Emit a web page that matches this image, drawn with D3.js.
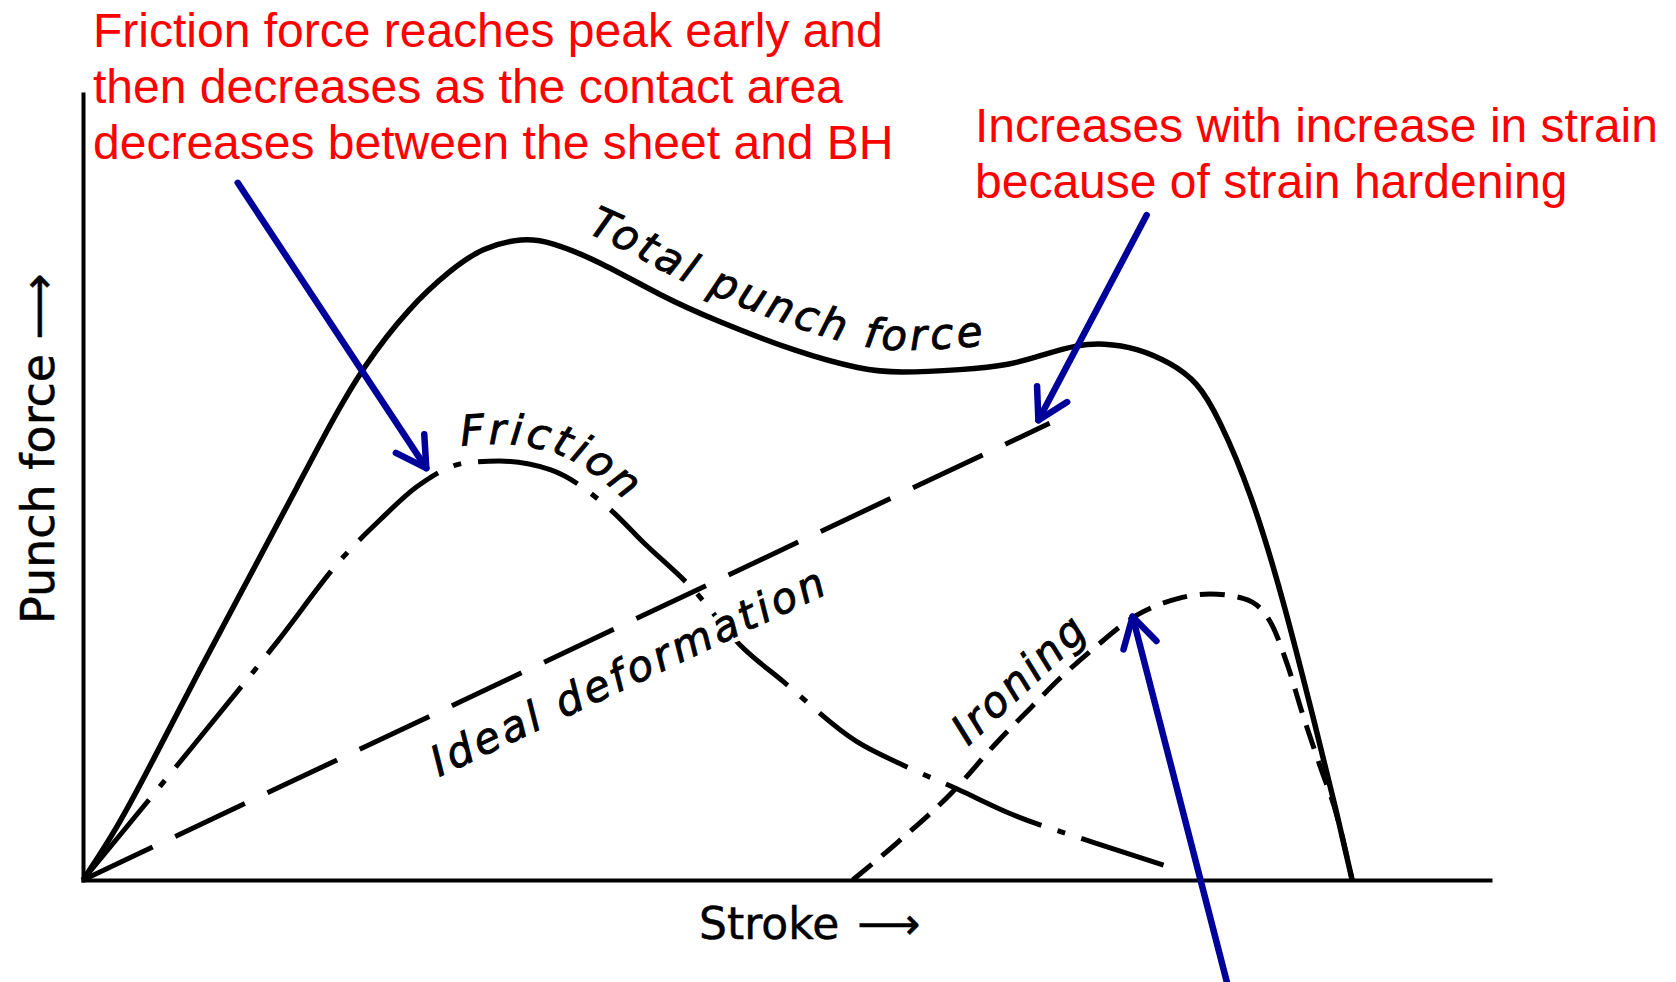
<!DOCTYPE html>
<html>
<head>
<meta charset="utf-8">
<script src="https://cdn.jsdelivr.net/npm/d3@7"></script>
<style>
  html, body { margin: 0; padding: 0; background: #fff; }
  svg { display: block; }
</style>
</head>
<body>
<script>
// Punch force against stroke in deep drawing, split into its components.
// Stroke and force are in relative units (0-100 of the drawn axes).

const totalStroke = [0, 2.4, 4.8, 8.3, 11.9, 15.4, 17.6, 19.9, 23.2, 26.1, 28.4, 31.3, 33.2, 36.5, 41.2, 44.8, 50.8, 55.4, 57.9, 62.5, 65.9, 68.2, 70.7, 72.5, 74.9, 77.3, 79.2, 80.7, 83.0, 85.3, 87.6, 89.1, 90.2];
const totalForce  = [0, 6.5, 14.6, 26.8, 38.8, 50.6, 58.1, 65.3, 72.9, 77.6, 80.5, 81.7, 81.2, 78.9, 74.2, 71.3, 67.1, 64.9, 64.5, 64.9, 65.5, 66.8, 68.1, 68.3, 67.7, 65.8, 63.4, 58.9, 49.4, 35.8, 19.5, 8.7, 0];

const frictionStroke = [0, 6.7, 13.8, 18.5, 21.1, 23.7, 27.3, 29.6, 33.2, 37.5, 39.8, 43.4, 46.7, 49.8, 55.0, 58.3, 62.1, 66.1, 71.8, 76.8];
const frictionForce  = [0, 14.6, 30.3, 41.1, 45.8, 50.0, 53.1, 53.3, 52.2, 47.1, 43.0, 36.9, 29.9, 25.2, 17.6, 14.6, 11.6, 8.3, 4.8, 1.9];

const idealStroke = [0, 68.7];
const idealForce  = [0, 58.1];

const ironingStroke = [54.7, 57.9, 61.8, 65.0, 67.3, 69.4, 71.8, 74.9, 77.8, 80.1, 82.5, 84.4, 85.6, 86.7, 87.9, 89.1, 90.2];
const ironingForce  = [0, 4.8, 11.2, 17.6, 21.8, 25.6, 29.4, 33.7, 35.8, 36.4, 35.8, 32.8, 27.4, 21.0, 14.6, 8.3, 0];

const curveLabels = ["Total punch force", "Friction", "Ideal deformation", "Ironing"];
const axisTitles  = ["Stroke", "Punch force"];
const axisArrow   = "\u27F6";

const frictionNote  = ["Friction force reaches peak early and", "then decreases as the contact area", "decreases between the sheet and BH"];
const hardeningNote = ["Increases with increase in strain", "because of strain hardening"];

// Annotation arrows: [tailStroke, tailForce, tipStroke, tipForce]
const noteArrows = [
  [11.0, 88.7, 24.4, 52.4],
  [75.6, 84.6, 67.9, 58.5],
  [81.3, -13.0, 74.6, 33.5]
];

const W = 1676, H = 982;
const svg = d3.select("body").append("svg")
  .attr("width", W).attr("height", H)
  .attr("viewBox", `0 0 ${W} ${H}`);

const x = d3.scaleLinear().domain([0, 100]).range([83, 1490]);
const y = d3.scaleLinear().domain([0, 100]).range([880, 94]);

const zip = (a, b) => a.map((v, i) => [v, b[i]]);
const line = d3.line()
  .x(d => x(d[0])).y(d => y(d[1]))
  .curve(d3.curveMonotoneX);
const smoothLine = d3.line()
  .x(d => x(d[0])).y(d => y(d[1]))
  .curve(d3.curveBasis);

// Axes: bare lines, no ticks
const styleDomain = g => g.select(".domain")
  .attr("stroke", "#000").attr("stroke-width", 4).attr("stroke-linecap", "square");
svg.append("g")
  .attr("transform", `translate(0,${y(0)})`)
  .call(d3.axisBottom(x).tickValues([]).tickSizeOuter(0))
  .call(styleDomain);
svg.append("g")
  .attr("transform", `translate(${x(0)},0)`)
  .call(d3.axisLeft(y).tickValues([]).tickSizeOuter(0))
  .call(styleDomain);

const curves = svg.append("g").attr("fill", "none").attr("stroke", "#000");

const frictionPath = curves.append("path")
  .attr("d", line(zip(frictionStroke, frictionForce)))
  .attr("stroke-width", 5)
  .attr("stroke-dasharray", "104,17,8,17");

curves.append("path")
  .attr("d", line(zip(ironingStroke, ironingForce)))
  .attr("stroke-width", 5)
  .attr("stroke-dasharray", "25,13");

const totalPath = curves.append("path")
  .attr("d", smoothLine(zip(totalStroke, totalForce)))
  .attr("stroke-width", 5.5)
  .attr("stroke-linejoin", "round");

// Ideal deformation label: white backing first, so the friction curve
// breaks where it runs under the lettering
const idealAngle = Math.atan2(y(idealForce[1]) - y(idealForce[0]), x(idealStroke[1]) - x(idealStroke[0])) * 180 / Math.PI;
const labelFont = g => g
  .attr("font-family", "'DejaVu Sans', sans-serif")
  .attr("font-style", "oblique")
  .attr("font-size", 42);
const idealLabelAt = `translate(${x(25.3)},${y(13.1)}) rotate(${idealAngle})`;
svg.append("text").call(labelFont).attr("letter-spacing", 3.6)
  .attr("transform", idealLabelAt)
  .attr("fill", "#fff").attr("stroke", "#fff").attr("stroke-width", 10)
  .attr("stroke-linejoin", "round")
  .text(curveLabels[2]);

curves.append("path")
  .attr("d", line(zip(idealStroke, idealForce)))
  .attr("stroke-width", 5)
  .attr("stroke-dasharray", "77,25");

// Baseline running parallel to a curve, shifted to its upper side
function parallelBaseline(node, dist, fromStroke) {
  const L = node.getTotalLength();
  const pts = [];
  for (let s = 0; s <= L; s += 2) {
    const p = node.getPointAtLength(s);
    const a = node.getPointAtLength(Math.max(0, s - 1.5));
    const b = node.getPointAtLength(Math.min(L, s + 1.5));
    const dx = b.x - a.x, dy = b.y - a.y;
    const n = Math.hypot(dx, dy) || 1;
    pts.push([p.x + dy / n * dist, p.y - dx / n * dist]);
  }
  let acc = 0, start = 0;
  const x0 = x(fromStroke);
  for (let i = 1; i < pts.length; i++) {
    if (pts[i][0] >= x0) { start = acc; break; }
    acc += Math.hypot(pts[i][0] - pts[i - 1][0], pts[i][1] - pts[i - 1][1]);
  }
  return { d: d3.line()(pts), start };
}

const defs = svg.append("defs");
const inkFont = g => g.call(labelFont)
  .attr("fill", "#000")
  .attr("stroke", "#000").attr("stroke-width", 0.9);

const totalBase = parallelBaseline(totalPath.node(), 22, 35.8);
defs.append("path").attr("id", "total-label-path").attr("d", totalBase.d);
svg.append("text").call(inkFont).attr("letter-spacing", 3.6)
  .append("textPath")
  .attr("href", "#total-label-path")
  .attr("startOffset", totalBase.start)
  .text(curveLabels[0]);

const frictionBase = parallelBaseline(frictionPath.node(), 17, 26.9);
defs.append("path").attr("id", "friction-label-path").attr("d", frictionBase.d);
svg.append("text").call(inkFont).attr("letter-spacing", 3.4)
  .append("textPath")
  .attr("href", "#friction-label-path")
  .attr("startOffset", frictionBase.start)
  .text(curveLabels[1]);

svg.append("text").call(inkFont).attr("letter-spacing", 3.6)
  .attr("transform", idealLabelAt)
  .text(curveLabels[2]);

svg.append("text").call(inkFont).attr("letter-spacing", 3)
  .attr("transform", `translate(${x(62.9)},${y(17.0)}) rotate(-43)`)
  .text(curveLabels[3]);

// Axis titles with long arrows
const titleFont = g => g
  .attr("font-family", "'DejaVu Sans', sans-serif")
  .attr("fill", "#000")
  .attr("stroke", "#000").attr("stroke-width", 0.5);
const xTitle = svg.append("text").call(titleFont)
  .attr("font-size", 44)
  .attr("x", 699).attr("y", 939);
xTitle.append("tspan").text(axisTitles[0]);
xTitle.append("tspan").attr("dx", 18).text(axisArrow);

const yTitle = svg.append("text").call(titleFont)
  .attr("font-size", 46)
  .attr("transform", "translate(54,624) rotate(-90)");
yTitle.append("tspan").text(axisTitles[1]);
yTitle.append("tspan").attr("dx", 14).text(axisArrow);

// Red notes
const noteFont = g => g
  .attr("font-family", "'Liberation Sans', Arial, sans-serif")
  .attr("font-size", 48)
  .attr("fill", "#ff0000");
svg.append("g").call(noteFont)
  .selectAll("text").data(frictionNote).join("text")
  .attr("x", 93).attr("y", (d, i) => 47 + i * 56)
  .text(d => d);
svg.append("g").call(noteFont)
  .selectAll("text").data(hardeningNote).join("text")
  .attr("x", 975).attr("y", (d, i) => 142 + i * 56)
  .text(d => d);

// Blue pointer arrows with open heads
const arrowG = svg.append("g")
  .attr("stroke", "#00009a").attr("stroke-width", 6.5)
  .attr("stroke-linecap", "round").attr("stroke-linejoin", "round")
  .attr("fill", "none");
noteArrows.forEach(([sx, sf, tx, tf]) => {
  const x1 = x(sx), y1 = y(sf), x2 = x(tx), y2 = y(tf);
  const back = Math.atan2(y1 - y2, x1 - x2);
  const len = 34, spread = Math.PI / 6;
  arrowG.append("path").attr("d", d3.line()([[x1, y1], [x2, y2]]));
  arrowG.append("path").attr("d", d3.line()([
    [x2 + len * Math.cos(back + spread), y2 + len * Math.sin(back + spread)],
    [x2, y2],
    [x2 + len * Math.cos(back - spread), y2 + len * Math.sin(back - spread)]
  ]));
});
</script>
</body>
</html>
